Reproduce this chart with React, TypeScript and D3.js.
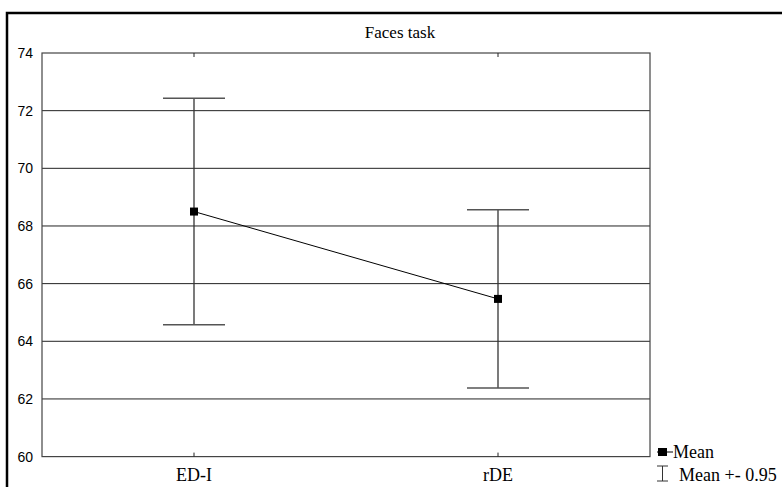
import { useRef, useEffect } from "react"
import * as d3 from "d3"

const categories = ["ED-I", "rDE"]
const means = [68.5, 65.47]
const lowers = [64.57, 62.38]
const uppers = [72.43, 68.56]
const yTicks = [60, 62, 64, 66, 68, 70, 72, 74]

export default function App() {
    const svgRef = useRef<SVGSVGElement>(null)
    const width = 782
    const height = 487

    useEffect(() => {
        const svg = d3.select(svgRef.current)
        svg.selectAll("*").remove()

        const margin = { top: 53, left: 42, right: 132, bottom: 30 }
        const innerW = width - margin.left - margin.right
        const innerH = 456.6 - margin.top

        const xScale = d3.scalePoint<string>()
            .domain(categories)
            .range([0, innerW])
            .padding(0.5)
        const yScale = d3.scaleLinear().domain([60, 74]).range([innerH, 0])

        svg.append("rect")
            .attr("x", 7).attr("y", 13)
            .attr("width", 820).attr("height", 520)
            .attr("fill", "none").attr("stroke", "#000").attr("stroke-width", 2.5)

        svg.append("text")
            .text("Faces task")
            .attr("x", 400).attr("y", 38)
            .attr("text-anchor", "middle")
            .style("font-family", "'Liberation Serif', serif")
            .style("font-size", "17px")

        const g = svg.append("g").attr("transform", `translate(${margin.left}, ${margin.top})`)

        // gridlines
        g.selectAll("line.grid")
            .data(yTicks.slice(1, -1))
            .enter().append("line")
            .attr("x1", 0).attr("x2", innerW)
            .attr("y1", d => yScale(d)).attr("y2", d => yScale(d))
            .attr("stroke", "#222").attr("stroke-width", 1)

        // frame
        g.append("rect")
            .attr("width", innerW).attr("height", innerH)
            .attr("fill", "none").attr("stroke", "#444").attr("stroke-width", 1.2)

        // y labels
        g.selectAll("text.ylab")
            .data(yTicks)
            .enter().append("text")
            .text(d => d)
            .attr("x", -9).attr("y", d => yScale(d) + 5)
            .attr("text-anchor", "end")
            .style("font-family", "'Liberation Sans', Arial, sans-serif")
            .style("font-size", "14px")

        // x ticks and labels
        categories.forEach(c => {
            const x = xScale(c)!
            g.append("line").attr("x1", x).attr("x2", x).attr("y1", 0).attr("y2", 4).attr("stroke", "#222")
            g.append("line").attr("x1", x).attr("x2", x).attr("y1", innerH).attr("y2", innerH - 4).attr("stroke", "#222")
            g.append("text").text(c)
                .attr("x", x).attr("y", innerH + 24)
                .attr("text-anchor", "middle")
                .style("font-family", "'Liberation Serif', serif")
                .style("font-size", "18px")
        })

        // error bars
        const capHalf = 31
        categories.forEach((c, i) => {
            const x = xScale(c)!
            g.append("line").attr("x1", x).attr("x2", x)
                .attr("y1", yScale(uppers[i])).attr("y2", yScale(lowers[i]))
                .attr("stroke", "#333").attr("stroke-width", 1.3)
            ;[uppers[i], lowers[i]].forEach(v => {
                g.append("line").attr("x1", x - capHalf).attr("x2", x + capHalf)
                    .attr("y1", yScale(v)).attr("y2", yScale(v))
                    .attr("stroke", "#555").attr("stroke-width", 1.5)
            })
        })

        // mean line
        const line = d3.line<number>()
            .x((_, i) => xScale(categories[i])!)
            .y(d => yScale(d))
        g.append("path").datum(means).attr("d", line)
            .attr("fill", "none").attr("stroke", "#000").attr("stroke-width", 1)

        g.selectAll("rect.pt")
            .data(means)
            .enter().append("rect")
            .attr("x", (_, i) => xScale(categories[i])! - 4)
            .attr("y", d => yScale(d) - 4)
            .attr("width", 8).attr("height", 8)
            .attr("fill", "#000")

        // legend
        const lg = svg.append("g").style("font-family", "'Liberation Serif', serif").style("font-size", "18px")
        lg.append("line").attr("x1", 657).attr("x2", 673).attr("y1", 452).attr("y2", 452).attr("stroke", "#000")
        lg.append("rect").attr("x", 658).attr("y", 448).attr("width", 9).attr("height", 8).attr("fill", "#000")
        lg.append("text").text("Mean").attr("x", 673).attr("y", 458)
        lg.append("line").attr("x1", 662.5).attr("x2", 662.5).attr("y1", 466).attr("y2", 481).attr("stroke", "#333")
        lg.append("line").attr("x1", 657).attr("x2", 668).attr("y1", 466).attr("y2", 466).attr("stroke", "#333")
        lg.append("line").attr("x1", 657).attr("x2", 668).attr("y1", 481).attr("y2", 481).attr("stroke", "#333")
        lg.append("text").text("Mean +- 0.95").attr("x", 679).attr("y", 481)
    }, [])

    return (
        <svg ref={svgRef} width={width} height={height}
            style={{ position: "absolute", left: 0, top: 0, background: "#fff" }} />
    )
}
